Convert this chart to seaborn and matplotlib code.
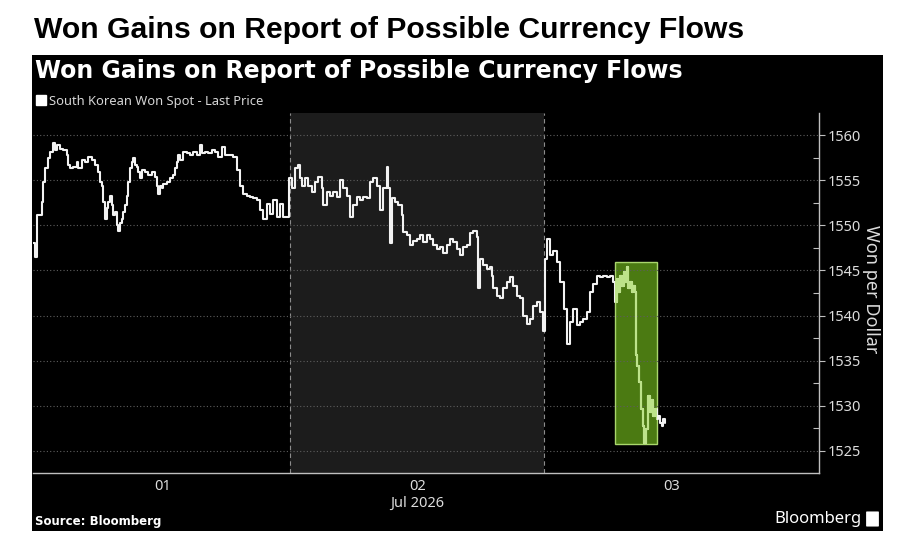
import matplotlib

matplotlib.use("Agg")

import matplotlib.pyplot as plt
import pandas as pd
import seaborn as sns
from matplotlib.lines import Line2D
from matplotlib.patches import FancyBboxPatch, Rectangle
from matplotlib.ticker import MultipleLocator

# USD/KRW spot, hours since start of Jul 1
hours = [
    -0.2, -0.05, 0.11, 0.42, 0.58, 0.74, 0.90, 1.21, 1.37, 1.62, 1.84, 2.0, 2.31, 2.62,
    2.94, 3.1, 3.25, 3.57, 3.88, 4.04, 4.36, 4.67, 4.98, 5.3, 5.61, 5.93, 6.08, 6.24,
    6.4, 6.56, 6.71, 6.87, 7.03, 7.19, 7.34, 7.5, 7.66, 7.81, 7.97, 8.13, 8.29, 8.44,
    8.6, 8.76, 8.92, 9.07, 9.23, 9.39, 9.54, 9.7, 9.86, 10.02, 10.33, 10.64, 10.96,
    11.27, 11.43, 11.59, 11.75, 11.9, 12.06, 12.37, 12.69, 13.0, 13.16, 13.32, 13.47,
    13.63, 13.95, 14.26, 14.58, 14.89, 15.2, 15.52, 15.68, 15.99, 16.3, 16.62, 16.93,
    17.25, 17.56, 17.88, 18.19, 18.66, 18.98, 19.29, 19.6, 19.92, 20.24, 20.55, 20.87,
    21.18, 21.49, 21.81, 22.12, 22.44, 22.75, 23.07, 23.38, 23.7, 23.9, 24.17, 24.48,
    24.73, 24.95, 25.17, 25.42, 25.74, 26.05, 26.37, 26.68, 27.0, 27.15, 27.47, 27.78,
    28.1, 28.42, 28.73, 29.04, 29.36, 29.67, 29.98, 30.3, 30.61, 30.92, 31.24, 31.56,
    31.87, 32.19, 32.5, 32.81, 33.13, 33.29, 33.44, 33.6, 33.92, 34.23, 34.55, 34.7,
    35.02, 35.33, 35.64, 35.96, 36.27, 36.58, 36.9, 37.22, 37.53, 37.85, 38.16, 38.47,
    38.79, 39.1, 39.42, 39.74, 40.05, 40.36, 40.68, 40.99, 41.3, 41.62, 41.77, 41.93,
    42.25, 42.56, 42.88, 43.04, 43.19, 43.51, 43.82, 44.13, 44.45, 44.76, 45.08, 45.4,
    45.71, 46.02, 46.34, 46.65, 46.97, 47.28, 47.59, 47.91, 48.07, 48.23, 48.54, 48.85,
    49.17, 49.48, 49.8, 50.11, 50.42, 50.74, 51.05, 51.37, 51.68, 52.0, 52.31, 52.62,
    52.94, 53.25, 53.57, 53.88, 54.2, 54.51, 54.67, 54.83, 54.98, 55.14, 55.3, 55.46,
    55.61, 55.77, 55.93, 56.08, 56.24, 56.4, 56.56, 56.65, 56.77, 56.96, 57.09, 57.28,
    57.41, 57.59, 57.81, 57.97, 58.13, 58.28, 58.44, 58.6, 58.75, 58.91, 59.07, 59.22,
    59.37,
]
price = [
    1548.0, 1546.5, 1551.1, 1551.1, 1552.6, 1554.8, 1556.3, 1557.4, 1558.1, 1559.1, 1558.3, 1558.9, 1558.5, 1558.3,
    1557.8, 1556.7, 1556.3, 1556.5, 1557.0, 1556.3, 1557.2, 1557.0, 1557.6, 1557.2, 1556.7, 1555.9, 1554.8, 1554.4,
    1552.6, 1550.7, 1551.9, 1552.6, 1553.3, 1552.2, 1551.1, 1551.5, 1550.0, 1549.4, 1550.2, 1550.7, 1551.5, 1552.2,
    1553.3, 1554.8, 1556.3, 1557.0, 1557.4, 1556.7, 1556.5, 1555.9, 1555.2, 1556.1, 1555.9, 1555.6, 1555.9,
    1555.4, 1554.4, 1553.5, 1554.4, 1554.1, 1554.6, 1554.8, 1555.2, 1555.6, 1556.3, 1557.0, 1557.8,
    1557.2, 1558.1, 1558.0, 1557.8, 1558.1, 1557.8, 1558.9, 1558.0, 1558.1, 1558.0, 1558.3, 1558.1,
    1557.6, 1558.7, 1557.8, 1557.8, 1557.6, 1556.1, 1554.3, 1553.5, 1553.3, 1553.1, 1553.0, 1552.8,
    1551.7, 1550.7, 1552.4, 1551.3, 1552.8, 1550.9, 1552.4, 1550.9, 1550.9, 1555.2, 1554.1, 1556.3,
    1556.7, 1555.2, 1554.4, 1555.2, 1554.4, 1553.7, 1554.8, 1555.4, 1554.1, 1552.2, 1553.7, 1553.3,
    1553.7, 1553.1, 1555.0, 1554.1, 1553.3, 1550.9, 1552.2, 1553.1, 1552.8, 1553.1, 1553.0, 1554.8,
    1555.2, 1554.4, 1551.7, 1554.1, 1556.5, 1554.1, 1548.0, 1553.0, 1552.6, 1552.2, 1551.1, 1549.3,
    1548.9, 1547.8, 1548.3, 1548.5, 1548.9, 1548.1, 1548.9, 1548.5, 1547.8, 1547.4, 1547.6, 1546.9,
    1547.8, 1548.5, 1548.1, 1547.4, 1546.7, 1547.6, 1547.8, 1549.1, 1549.4, 1548.7, 1543.0, 1546.3,
    1545.6, 1545.2, 1545.4, 1544.4, 1543.1, 1542.2, 1541.9, 1543.0, 1543.7, 1544.3, 1543.3, 1542.2,
    1541.9, 1540.0, 1539.1, 1539.6, 1541.1, 1541.5, 1540.4, 1538.3, 1546.3, 1548.5, 1546.7, 1547.2,
    1545.9, 1543.7, 1540.7, 1536.9, 1539.3, 1540.7, 1538.9, 1539.3, 1539.6, 1540.4, 1542.6, 1543.5,
    1544.4, 1544.3, 1544.4, 1544.3, 1544.4, 1543.7, 1541.5, 1544.1, 1542.6, 1544.4, 1543.3, 1544.8,
    1543.7, 1545.4, 1543.0, 1543.7, 1542.6, 1543.3, 1542.6, 1535.6, 1534.4, 1532.6, 1529.6, 1527.8,
    1525.9, 1527.4, 1531.1, 1529.3, 1530.7, 1528.9, 1529.6, 1528.5, 1528.9, 1528.1, 1527.8, 1528.5,
    1528.1,
]

tick_hours = [12, 36, 60]
tick_labels = ["01", "02\nJul 2026", "03"]
shade_span = [24, 48]
box_hours = [54.67, 58.6]
box_price = [1525.8, 1545.9]

TITLE = "Won Gains on Report of Possible Currency Flows"
W, H = 900, 545

sns.set_theme(style="dark")
plt.rcParams["font.family"] = ["Noto Sans", "DejaVu Sans"]

df = pd.DataFrame({"hours": hours, "price": price})

fig = plt.figure(figsize=(W / 100, H / 100), dpi=100, facecolor="white")

# black chart panel below the page headline
fig.add_artist(Rectangle((32 / W, 1 - 531 / H), 851 / W, 476 / H, transform=fig.transFigure,
                         facecolor="black", edgecolor="none", zorder=0))
fig.text(34 / W, 1 - 30 / H, TITLE, family="Liberation Sans", weight="bold", size=21.7,
         va="center", color="black")
fig.text(35 / W, 1 - 71 / H, TITLE, family="DejaVu Sans", weight="bold", size=17,
         va="center", color="white")

ax = fig.add_axes([33 / W, 1 - 473 / H, 786 / W, 360 / H])
ax.set_facecolor("black")
ax.set_axisbelow(True)

ax.axvspan(shade_span[0], shade_span[1], color="#1c1c1c", lw=0, zorder=0.1)
for xv in shade_span:
    ax.axvline(xv, color="#8c8c8c", lw=0.8, ls=(0, (4, 3)), zorder=0.2)

box = Rectangle((box_hours[0], box_price[0]), box_hours[1] - box_hours[0], box_price[1] - box_price[0],
                facecolor="#4b7a12", edgecolor="#a9d66c", lw=1.0, zorder=0.3)
ax.add_patch(box)

sns.lineplot(data=df, x="hours", y="price", ax=ax, color="#f2f2f2", lw=1.5,
             drawstyle="steps-post", estimator=None, zorder=3)

inside = df[(df["hours"] >= 54.5) & (df["hours"] <= 58.8)]
sns.lineplot(data=inside, x="hours", y="price", ax=ax, color="#bde38a", lw=1.5,
             drawstyle="steps-post", estimator=None, zorder=4)
ax.lines[-1].set_clip_path(box)

ax.set_xlim(-0.24, 73.9)
ax.set_ylim(1522.56, 1562.44)

ax.set_xticks(tick_hours)
ax.set_xticklabels(tick_labels)
ax.tick_params(axis="x", length=0, pad=4, labelsize=10.5, labelcolor="#dcdcdc")

ax.yaxis.tick_right()
ax.yaxis.set_major_locator(MultipleLocator(5))
ax.yaxis.set_minor_locator(MultipleLocator(2.5))
ax.tick_params(axis="y", which="major", direction="out", length=4, width=0.8, color="#bfbfbf",
               pad=2, labelsize=10.5, labelcolor="#dcdcdc", right=True, left=False)
ax.tick_params(axis="y", which="minor", direction="in", length=4, width=0.8, color="#bfbfbf",
               right=True, left=False)

ax.grid(axis="y", which="major", color="#5e5e5e", lw=0.8, ls=(0, (1, 2)))
ax.grid(axis="x", visible=False)

ax.set_xlabel("")
ax.set_ylabel("Won per Dollar", color="#dcdcdc", fontsize=13, rotation=-90)
ax.yaxis.set_label_position("right")
ax.yaxis.label.set(va="center", ha="center")
ax.yaxis.set_label_coords(1.066, 0.51)

for side in ["left", "top"]:
    ax.spines[side].set_visible(False)
for side in ["right", "bottom"]:
    ax.spines[side].set_visible(True)
    ax.spines[side].set_color("#bfbfbf")
    ax.spines[side].set_linewidth(1.0)

handle = Line2D([], [], marker="s", color="white", ls="none", markersize=7)
leg = ax.legend([handle], ["South Korean Won Spot - Last Price"], loc="center left",
                bbox_to_anchor=(0.004, 1.033), frameon=False, borderaxespad=0, borderpad=0,
                handlelength=0.7, handletextpad=0.3, fontsize=9.3)
for txt in leg.get_texts():
    txt.set_color("#d6d6d6")

fig.text(35 / W, 1 - 521 / H, "Source: Bloomberg", family="DejaVu Sans", weight="bold", size=8.5,
         va="center", color="white")
fig.text(862 / W, 1 - 519 / H, "Bloomberg", size=12, va="center", ha="right", color="white")
fig.add_artist(FancyBboxPatch((867 / W, 1 - 526 / H), 11 / W, 14 / H, boxstyle="round,pad=0.001",
                              transform=fig.transFigure, facecolor="white", edgecolor="none"))

fig.savefig("out.png", dpi=100, facecolor="white")
